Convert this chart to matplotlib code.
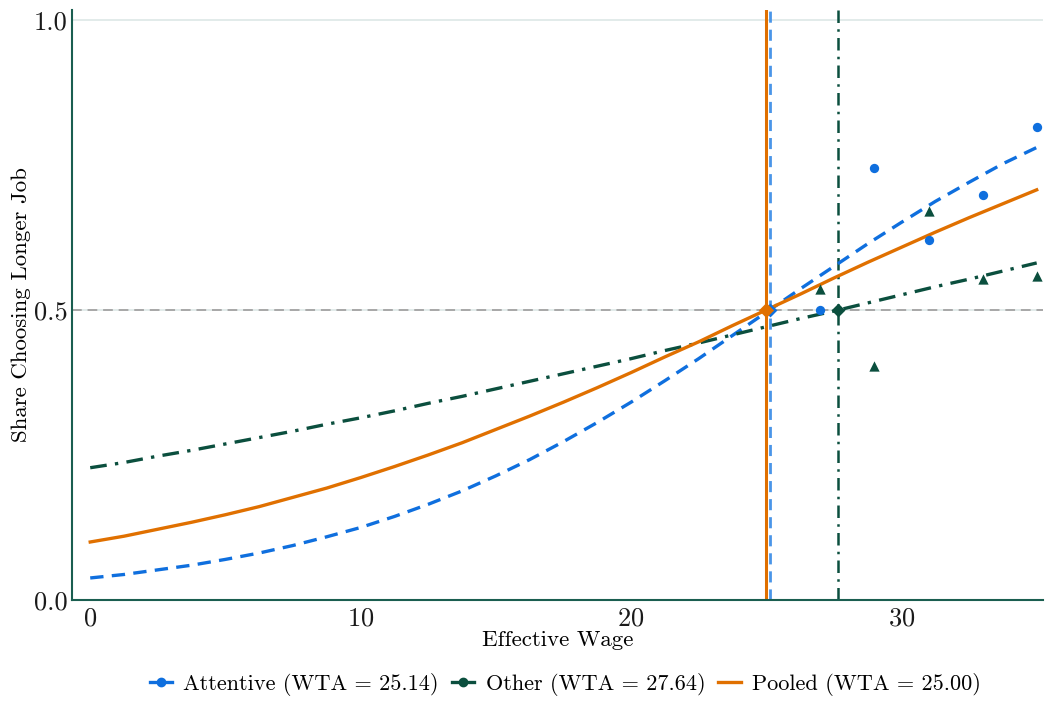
import matplotlib
matplotlib.use("Agg")
import matplotlib.pyplot as plt
from matplotlib.lines import Line2D

plt.rcParams['font.family'] = ['cmr10', 'DejaVu Serif']
plt.rcParams['mathtext.fontset'] = 'cm'
plt.rcParams['axes.formatter.use_mathtext'] = True

# Fitted curves
curve_x = [0, 1.25, 2.5, 3.75, 5, 6.25, 7.5, 8.75, 10, 11.25, 12.5, 13.75, 15, 16.25,
           17.5, 18.75, 20, 21.25, 22.5, 23.75, 25, 26.25, 27.5, 28.75, 30, 31.25,
           32.5, 33.75, 35]
attentive_curve = [0.038, 0.044, 0.052, 0.060, 0.070, 0.081, 0.094, 0.109, 0.125, 0.144,
                   0.165, 0.188, 0.214, 0.242, 0.273, 0.306, 0.341, 0.378, 0.416, 0.456,
                   0.496, 0.536, 0.575, 0.614, 0.651, 0.687, 0.720, 0.752, 0.780]
other_curve = [0.228, 0.237, 0.248, 0.258, 0.269, 0.280, 0.291, 0.303, 0.314, 0.326,
               0.339, 0.351, 0.364, 0.377, 0.390, 0.403, 0.416, 0.430, 0.443, 0.457,
               0.471, 0.485, 0.498, 0.512, 0.526, 0.540, 0.553, 0.567, 0.581]
pooled_curve = [0.100, 0.110, 0.122, 0.134, 0.147, 0.161, 0.177, 0.193, 0.211, 0.230,
                0.250, 0.271, 0.294, 0.317, 0.341, 0.366, 0.392, 0.419, 0.445, 0.473,
                0.500, 0.527, 0.555, 0.582, 0.608, 0.634, 0.659, 0.683, 0.707]

# Observed shares
obs_x = [27, 29, 31, 33, 35]
attentive_obs = [0.500, 0.745, 0.621, 0.698, 0.816]
other_obs = [0.536, 0.403, 0.671, 0.553, 0.559]

# WTA values
wta_attentive = 25.14
wta_other = 27.64
wta_pooled = 25.00

labels = ['Attentive (WTA = 25.14)', 'Other (WTA = 27.64)', 'Pooled (WTA = 25.00)']

blue = '#0F6FDE'
green = '#0B4F3E'
orange = '#E07000'
spine_col = '#1A5E50'

fig = plt.figure(figsize=(10.45, 7.03), dpi=100)
ax = fig.add_axes([0.069, 0.1465, 0.929, 0.8393])

ax.set_xlim(-0.67, 35.23)
ax.set_ylim(0.0, 1.017)

ax.yaxis.grid(True, color='#DDE8E6', linewidth=1.2, zorder=0)
ax.set_axisbelow(True)

ax.axhline(0.5, color='#A8A8A8', linestyle=(0, (5, 3)), linewidth=1.4, zorder=1)

ax.axvline(wta_pooled, color=orange, linewidth=2.2, zorder=2)
ax.axvline(wta_attentive, color='#4A95E8', linestyle=(0, (4, 2.5)), linewidth=2.0, zorder=2)
ax.axvline(wta_other, color=green, linestyle=(0, (5, 2.5, 1, 2.5)), linewidth=1.8, zorder=2)

ax.plot(curve_x, attentive_curve, color=blue, linestyle=(0, (4, 2.5)), linewidth=2.4, zorder=3)
ax.plot(curve_x, other_curve, color=green, linestyle=(0, (5, 2.5, 1, 2.5)), linewidth=2.4, zorder=3)
ax.plot(curve_x, pooled_curve, color=orange, linewidth=2.4, zorder=3)

ax.scatter(obs_x, attentive_obs, color=blue, marker='o', s=45, zorder=4, linewidths=0)
ax.scatter(obs_x, other_obs, color=green, marker='^', s=55, zorder=4, linewidths=0)

ax.scatter([wta_attentive], [0.5], color=blue, marker='D', s=50, zorder=5, linewidths=0)
ax.scatter([wta_other], [0.5], color=green, marker='D', s=50, zorder=5, linewidths=0)
ax.scatter([wta_pooled], [0.5], color=orange, marker='D', s=60, zorder=6, linewidths=0)

ax.set_xticks([0, 10, 20, 30])
ax.set_yticks([0.0, 0.5, 1.0])
ax.set_yticklabels(['0.0', '0.5', '1.0'])
ax.tick_params(axis='both', length=0, labelsize=19, colors='#1a1a1a')
ax.tick_params(axis='x', pad=5)
ax.tick_params(axis='y', pad=3)

for s in ['top', 'right']:
    ax.spines[s].set_visible(False)
for s in ['left', 'bottom']:
    ax.spines[s].set_color(spine_col)
    ax.spines[s].set_linewidth(1.5)

ax.set_xlabel('Effective Wage', fontsize=16.5, labelpad=0)
ax.set_ylabel('Share Choosing Longer Job', fontsize=16.5, labelpad=2)

handles = [
    Line2D([], [], color=blue, marker='o', markersize=6, linewidth=2.4),
    Line2D([], [], color=green, marker='o', markersize=6, linewidth=2.4),
    Line2D([], [], color=orange, linewidth=2.4),
]
fig.legend(handles, labels, loc='center', bbox_to_anchor=(0.541, 0.026), ncol=3,
           frameon=False, fontsize=16, handlelength=1.0, handletextpad=0.5,
           columnspacing=0.6)

fig.savefig('out.png', dpi=100)
